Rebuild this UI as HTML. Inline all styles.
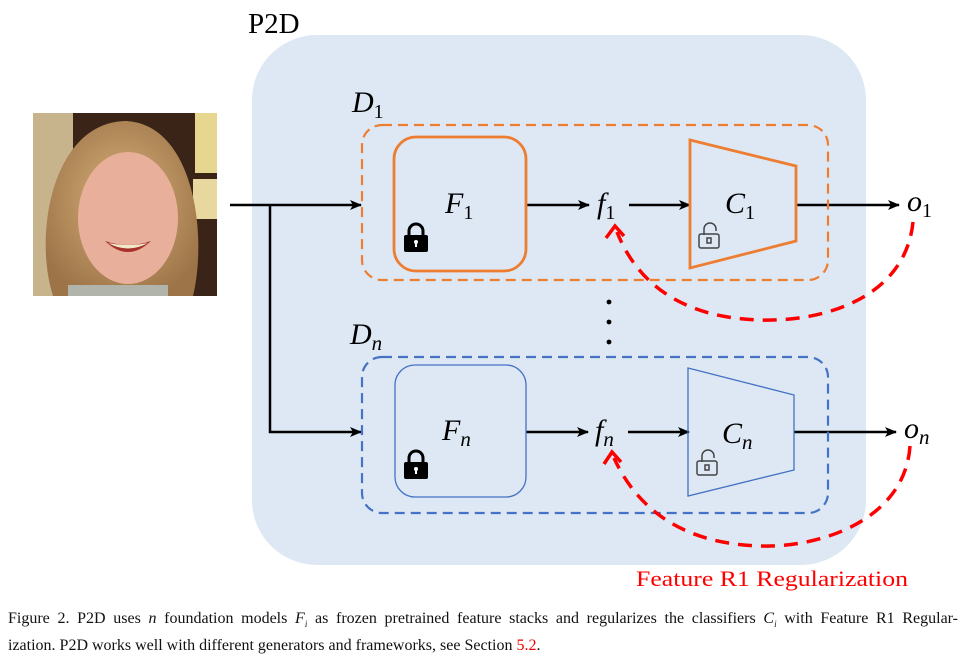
<!DOCTYPE html>
<html><head><meta charset="utf-8"><style>
body{margin:0;background:#fff;width:975px;height:658px;overflow:hidden}
svg{display:block}
.cap{position:absolute;left:8px;top:608px;width:950px;font:16px/22px "Liberation Serif",serif;color:#111}
.l1{text-align:justify;text-align-last:justify;white-space:nowrap}
</style></head><body>
<svg width="975" height="658" viewBox="0 0 975 658" xmlns="http://www.w3.org/2000/svg">
<defs>
<marker id="ah" markerWidth="12" markerHeight="10" refX="11" refY="5" orient="auto" markerUnits="userSpaceOnUse"><path d="M0,0 L12,5 L0,10 L3,5 z" fill="#000"/></marker>
<radialGradient id="hair" cx="50%" cy="45%" r="60%"><stop offset="0" stop-color="#d9b07a"/><stop offset="1" stop-color="#9c7448"/></radialGradient>
</defs>
<rect x="252" y="35" width="614" height="530" rx="65" fill="#dde8f4"/>
<text x="248" y="33" font-family="Liberation Serif,serif" font-size="29">P2D</text>
<svg x="33" y="113" width="184" height="183" viewBox="0 0 184 183">
<rect width="184" height="183" fill="#3a2418"/>
<rect width="40" height="183" fill="#c8b48c"/>
<rect x="162" y="0" width="22" height="60" fill="#e6d690"/>
<rect x="160" y="66" width="24" height="40" fill="#e8d8a0"/>
<path d="M20 183 C0 120 20 10 92 8 C160 10 175 120 160 183z" fill="url(#hair)"/>
<ellipse cx="95" cy="105" rx="50" ry="66" fill="#e8b09a"/>
<path d="M72 128 Q95 150 118 128 Q95 136 72 128z" fill="#a8302a"/>
<path d="M75 130 Q95 141 115 130 Q95 134 75 130z" fill="#f0e6c8"/>
<rect x="35" y="172" width="100" height="11" fill="#b0b4aa"/>
</svg>
<g stroke="#000" stroke-width="2.5" fill="none">
<line x1="230" y1="205" x2="361" y2="205" marker-end="url(#ah)"/>
<polyline points="270,205 270,432 361,432" marker-end="url(#ah)"/>
<line x1="526" y1="205" x2="589" y2="205" marker-end="url(#ah)"/>
<line x1="629" y1="205" x2="690" y2="205" marker-end="url(#ah)"/>
<line x1="796" y1="205" x2="899" y2="205" marker-end="url(#ah)"/>
<line x1="526" y1="432" x2="588" y2="432" marker-end="url(#ah)"/>
<line x1="628" y1="432" x2="689" y2="432" marker-end="url(#ah)"/>
<line x1="794" y1="432" x2="896" y2="432" marker-end="url(#ah)"/>
</g>
<rect x="362" y="125" width="466" height="155" rx="20" fill="none" stroke="#ed7d31" stroke-width="2.2" stroke-dasharray="10,6"/>
<rect x="394" y="137" width="132" height="134" rx="22" fill="none" stroke="#ed7d31" stroke-width="2.8"/>
<polygon points="690,140 796,166 796,241 690,268" fill="none" stroke="#ed7d31" stroke-width="2.8"/>
<rect x="362" y="357" width="466" height="156" rx="20" fill="none" stroke="#4472c4" stroke-width="2.2" stroke-dasharray="10,6"/>
<rect x="395" y="365" width="131" height="132" rx="20" fill="none" stroke="#4472c4" stroke-width="1.3"/>
<polygon points="688,368 794,395 794,470 688,496" fill="none" stroke="#4472c4" stroke-width="1.3"/>
<g font-family="Liberation Serif,serif" font-style="italic" font-size="30">
<text x="352" y="112">D<tspan font-style="normal" font-size="20" dy="6">1</tspan></text>
<text x="350" y="344">D<tspan font-size="21" dy="6">n</tspan></text>
<text x="445" y="213">F<tspan font-style="normal" font-size="20" dy="6">1</tspan></text>
<text x="442" y="440">F<tspan font-size="21" dy="6">n</tspan></text>
<text x="597" y="213">f<tspan font-style="normal" font-size="20" dy="6">1</tspan></text>
<text x="595" y="440">f<tspan font-size="21" dy="6">n</tspan></text>
<text x="725" y="213">C<tspan font-style="normal" font-size="20" dy="6">1</tspan></text>
<text x="722" y="443">C<tspan font-size="21" dy="6">n</tspan></text>
<text x="907" y="211">o<tspan font-style="normal" font-size="20" dy="6">1</tspan></text>
<text x="904" y="438">o<tspan font-size="21" dy="6">n</tspan></text>
</g>
<circle cx="609" cy="302" r="2.4"/><circle cx="609" cy="322" r="2.4"/><circle cx="609" cy="342" r="2.4"/>
<g>
<path d="M409 236 v-5 a7 7 0 0 1 14 0 v5" fill="none" stroke="#000" stroke-width="3"/>
<rect x="404" y="235" width="24" height="17" rx="2"/>
<circle cx="416" cy="242" r="2" fill="#fff"/><rect x="415" y="242" width="2" height="5" fill="#fff"/>
</g>
<g transform="translate(0,227)">
<path d="M409 236 v-5 a7 7 0 0 1 14 0 v5" fill="none" stroke="#000" stroke-width="3"/>
<rect x="404" y="235" width="24" height="17" rx="2"/>
<circle cx="416" cy="242" r="2" fill="#fff"/><rect x="415" y="242" width="2" height="5" fill="#fff"/>
</g>
<g fill="none" stroke="#444" stroke-width="1.5">
<path d="M704 235 v-6 a6 6 0 0 1 12 0 v2"/>
<rect x="699" y="234" width="20" height="14" rx="2"/>
<rect x="707" y="238" width="4" height="5"/>
</g>
<g fill="none" stroke="#444" stroke-width="1.5" transform="translate(-2,227)">
<path d="M704 235 v-6 a6 6 0 0 1 12 0 v2"/>
<rect x="699" y="234" width="20" height="14" rx="2"/>
<rect x="707" y="238" width="4" height="5"/>
</g>
<g stroke="#ff0000" stroke-width="3.5" fill="none">
<path d="M913 222 C905 300 820 322 760 320 C690 318 640 290 617 232" stroke-dasharray="14,9"/>
<path d="M606 238 L615 226 L624 236"/>
<path d="M910 446 C905 520 820 548 760 546 C690 544 640 515 614 458" stroke-dasharray="14,9"/>
<path d="M604 464 L612 452 L621 462"/>
</g>
<text x="636" y="586" font-family="Liberation Serif,serif" font-size="22" fill="#ff0000" textLength="272" lengthAdjust="spacingAndGlyphs">Feature R1 Regularization</text>
</svg>
<div class="cap"><div class="l1">Figure 2. P2D uses <i>n</i> foundation models <i>F<sub style="font-size:9px">i</sub></i> as frozen pretrained feature stacks and regularizes the classifiers <i>C<sub style="font-size:9px">i</sub></i> with Feature R1 Regular-</div><div>ization. P2D works well with different generators and frameworks, see Section <span style="color:#e00">5.2</span>.</div></div>
</body></html>
